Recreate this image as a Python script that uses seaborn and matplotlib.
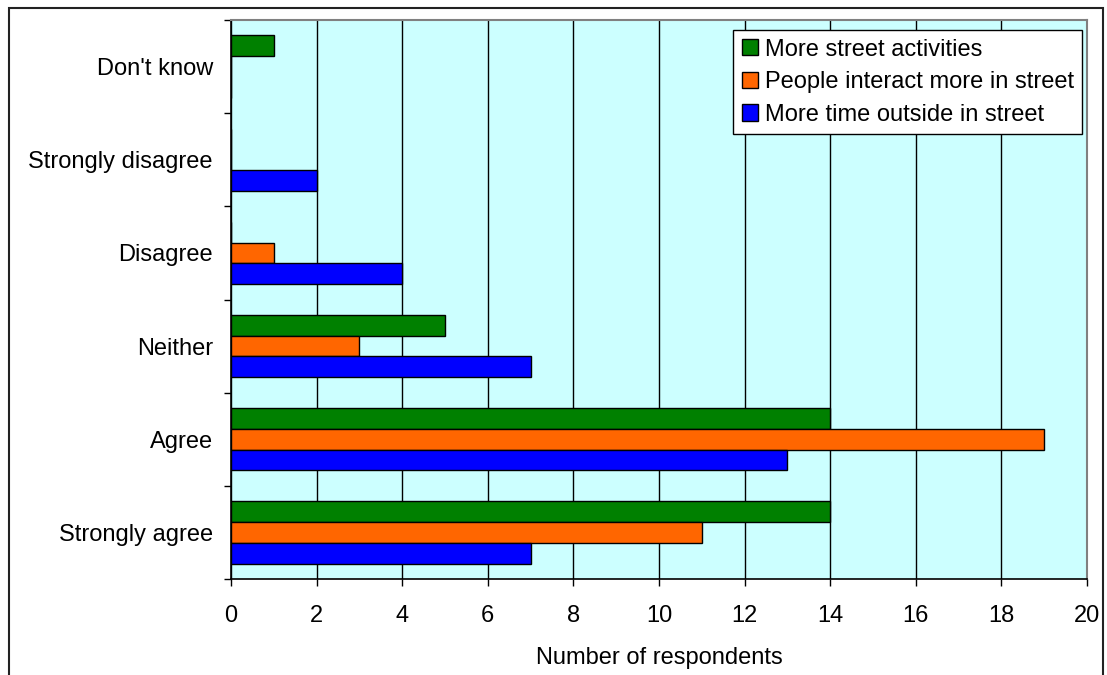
import matplotlib
matplotlib.use('Agg')
import matplotlib.pyplot as plt
import matplotlib.patches as mpatches
import pandas as pd
import numpy as np
import seaborn as sns

categories = ["Don't know", "Strongly disagree", "Disagree", "Neither", "Agree", "Strongly agree"]
series = ["More street activities", "People interact more in street", "More time outside in street"]
street_activities = [1, 0, 0, 5, 14, 14]
interact_more = [0, 0, 1, 3, 19, 11]
time_outside = [0, 2, 4, 7, 13, 7]
colors = ["#008000", "#FF6600", "#0000FF"]

rows = []
for name, vals in zip(series, [street_activities, interact_more, time_outside]):
    for cat, v in zip(categories, vals):
        rows.append({"Response": cat, "Series": name, "Count": v})
df = pd.DataFrame(rows)

sns.set_style("white")
plt.rcParams['font.family'] = ['Liberation Sans', 'DejaVu Sans']
plt.rcParams['text.color'] = 'black'
plt.rcParams['xtick.color'] = 'black'
plt.rcParams['ytick.color'] = 'black'
plt.rcParams['axes.labelcolor'] = 'black'

fig = plt.figure(figsize=(11.07, 6.75), dpi=100)
ax = fig.add_axes([231/1107, 1-579/675, (1087-231)/1107, (579-20)/675])
ax.set_facecolor("#CCFFFF")

sns.barplot(data=df, y="Response", x="Count", hue="Series", order=categories,
            hue_order=series, palette=colors, saturation=1, orient="h", width=0.67,
            edgecolor="black", linewidth=1, ax=ax, legend=True)

ax.set_xlim(0, 20)
ax.set_ylim(len(categories) - 0.5, -0.5)
ax.set_xticks(np.arange(0, 21, 2))
ax.tick_params(axis="x", labelsize=17, length=5, width=1, bottom=True,
               direction="out", pad=14)
ax.tick_params(axis="y", which="major", labelsize=17, length=0, pad=13)
ax.set_yticks(np.arange(-0.5, len(categories), 1), minor=True)
ax.tick_params(axis="y", which="minor", length=5, width=1, left=True, direction="out")
ax.xaxis.grid(True, color="black", linewidth=1)
ax.set_axisbelow(True)
ax.set_ylabel("")
ax.set_xlabel("Number of respondents", fontsize=17, labelpad=14)

for side in ["left", "bottom"]:
    ax.spines[side].set_color("black")
    ax.spines[side].set_linewidth(1.2)
for side in ["top", "right"]:
    ax.spines[side].set_color("#808080")
    ax.spines[side].set_linewidth(1.5)

leg = ax.legend(loc="upper right", bbox_to_anchor=(1.0, 0.99), fontsize=17,
                frameon=True, fancybox=False, edgecolor="black", framealpha=1,
                handlelength=0.68, handleheight=0.68, handletextpad=0.3,
                borderpad=0.35, labelspacing=0.45, borderaxespad=0.2)
leg.get_frame().set_linewidth(1)

frame = mpatches.Rectangle((9/1107, -0.1), (1103-9)/1107, 1.1 - 8/675,
                           transform=fig.transFigure, fill=False,
                           edgecolor="#222222", linewidth=1.5, clip_on=False)
fig.patches.append(frame)

fig.savefig("out.png", dpi=100)
